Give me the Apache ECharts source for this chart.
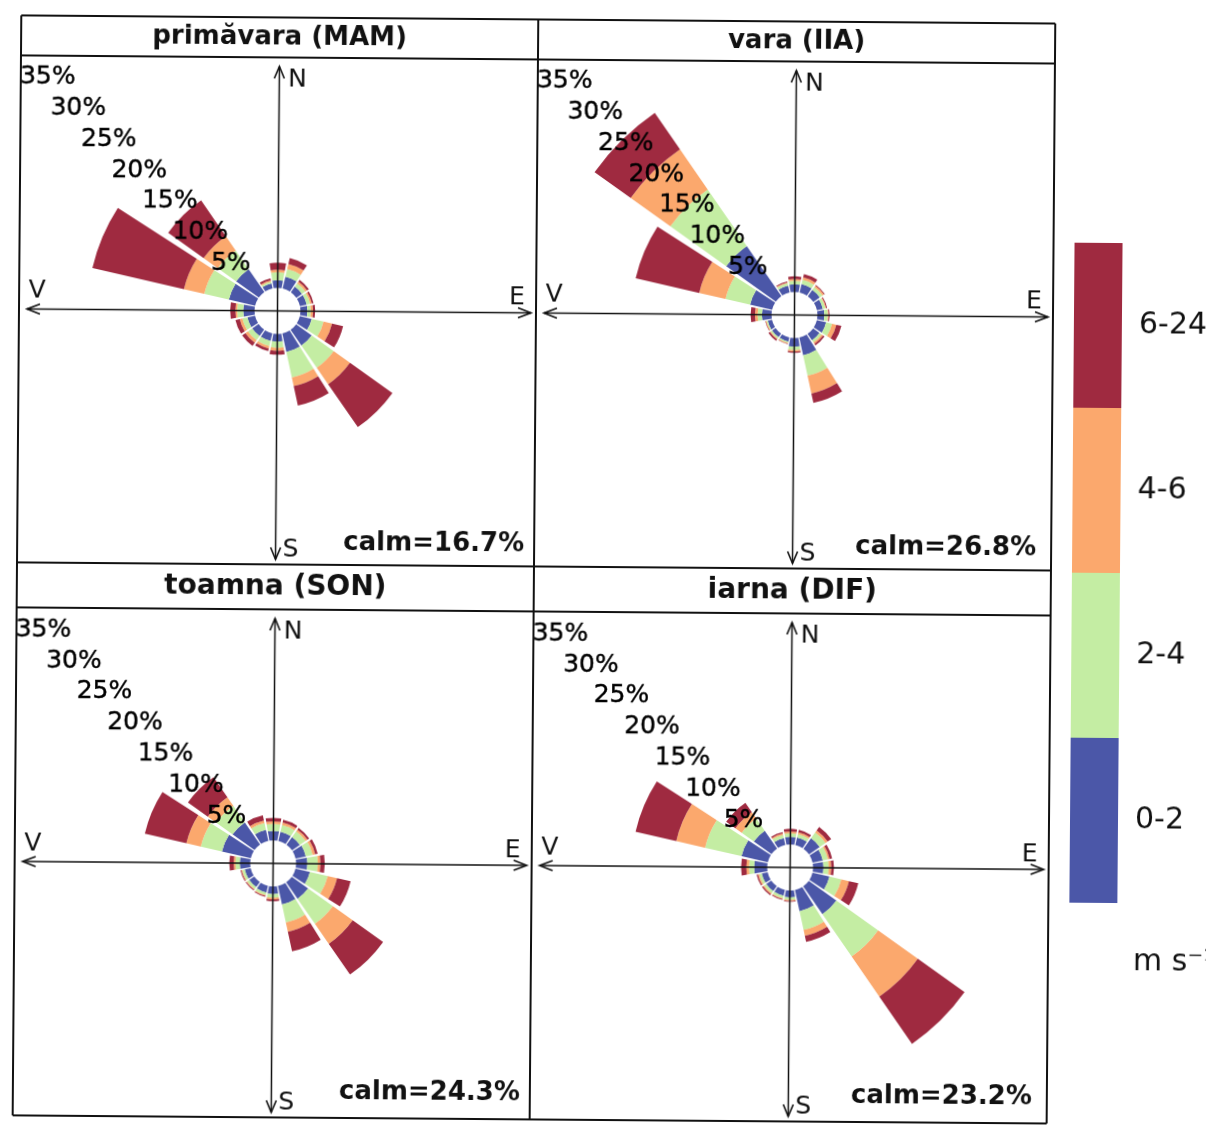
<!DOCTYPE html>
<html><head><meta charset="utf-8">
<script src="https://cdn.jsdelivr.net/npm/echarts@6/dist/echarts.min.js"></script>
<style>
html,body{margin:0;padding:0;background:#fff;overflow:hidden;}
#c{width:1209px;height:1131px;transform:rotate(0.45deg);transform-origin:604px 565px;background:#fff;}
</style>
</head><body><div id="c"></div>
<script>
// ---- categories / labels ----
const directions = ['N','NNE','NE','ENE','E','ESE','SE','SSE','S','SSW','SW','WSW','W','WNW','NW','NNW'];
const speedBins = ['0-2','2-4','4-6','6-24'];
const legendOrder = ['6-24','4-6','2-4','0-2'];
const seasonTitles = ['primăvara (MAM)','vara (IIA)','toamna (SON)','iarna (DIF)'];
const calmValues = [16.7, 26.8, 24.3, 23.2];
const ringTicks = [5,10,15,20,25,30,35];
const ringTickLabels = ['5%','10%','15%','20%','25%','30%','35%'];
const unitLabel = 'm s\u207B\u00B9';

// ---- frequencies (%) per direction, per speed bin ----
// primăvara (MAM)
const mam_0_2  = [0.9,1.4,0.8,0.8,0.8,1.4,2.2,2.2,0.9,0.9,0.9,0.9,1.3,3.1,3.2,0.6];
const mam_2_4  = [0.9,0.9,0.45,0.4,0.4,1.4,3.1,3.0,0.7,0.6,0.6,0.6,0.7,2.9,2.6,0.2];
const mam_4_6  = [0.3,0.6,0.25,0.2,0.25,1.0,2.3,1.0,0.35,0.3,0.35,0.3,0.2,2.4,2.0,0.15];
const mam_6_24 = [0.8,0.7,0.25,0.2,0.25,1.3,6.0,2.3,0.45,0.3,0.45,0.5,0.6,10.8,5.0,0.25];
// vara (IIA)
const jja_0_2  = [0.9,1.0,0.9,0.7,0.8,1.1,0.9,2.1,1.0,0.5,0.5,0.5,1.1,2.6,7.0,0.8];
const jja_2_4  = [0.4,0.5,0.4,0.3,0.4,0.7,0.3,2.4,0.4,0.15,0.2,0.15,0.5,2.9,7.9,0.3];
const jja_4_6  = [0.2,0.3,0.2,0.1,0.1,0.5,0.2,2.1,0.15,0.1,0.1,0.1,0.3,3.1,5.6,0.1];
const jja_6_24 = [0.3,0.4,0.1,0.1,0.1,0.6,0.2,1.1,0.15,0.05,0.2,0.05,0.5,7.5,5.1,0.1];
// toamna (SON)
const son_0_2  = [1.1,1.1,1.1,1.2,1.3,1.7,2.3,2.2,0.9,0.8,0.7,0.7,1.2,3.4,3.1,1.3];
const son_2_4  = [0.8,0.8,0.8,0.8,1.2,2.1,3.5,2.1,0.4,0.3,0.3,0.3,0.5,2.5,2.3,0.8];
const son_4_6  = [0.3,0.3,0.25,0.3,0.3,1.1,2.8,1.1,0.2,0.1,0.1,0.1,0.2,1.7,1.2,0.3];
const son_6_24 = [0.4,0.3,0.25,0.3,0.5,1.6,4.3,2.3,0.2,0.1,0.1,0.1,0.5,4.9,2.8,0.6];
// iarna (DIF)
const djf_0_2  = [0.9,0.9,1.5,1.2,1.2,2.0,3.9,2.5,0.8,0.7,0.7,0.7,1.5,3.1,2.5,0.8];
const djf_2_4  = [0.4,0.4,0.8,0.6,0.6,1.4,5.9,2.2,0.3,0.3,0.3,0.3,0.6,4.3,1.7,0.4];
const djf_4_6  = [0.2,0.2,0.3,0.2,0.3,0.9,5.6,0.7,0.1,0.1,0.15,0.15,0.3,3.4,0.9,0.15];
const djf_6_24 = [0.3,0.3,0.5,0.3,0.3,1.1,6.6,0.7,0.1,0.1,0.15,0.15,0.6,4.8,1.3,0.15];

const seasonBins = [
  [mam_0_2, mam_2_4, mam_4_6, mam_6_24],
  [jja_0_2, jja_2_4, jja_4_6, jja_6_24],
  [son_0_2, son_2_4, son_4_6, son_6_24],
  [djf_0_2, djf_2_4, djf_4_6, djf_6_24]
];

// ---- layout / style ----
const COLORS = ['#4B57A8', '#C4EDA3', '#FBA86D', '#9F2A40'];
const COLS = [[17, 534], [534, 1051]];
const ROWS = [[20, 60, 567], [567, 612, 1120]];
const PX_PER_PCT = 8.7, OFFSET = 2.64, RMAX = 40;
const FONT = '"DejaVu Sans", "Liberation Sans", sans-serif';
const INK = '#111111';

const polar = [], angleAxis = [], radiusAxis = [], series = [], graphic = [];
const hidden = {axisLine:{show:false}, axisTick:{show:false}, axisLabel:{show:false}, splitLine:{show:false}, splitArea:{show:false}};

function txt(text, x, y, font, align, valign) {
  graphic.push({type:'text', z:110, silent:true,
    style:{text, x, y, font, fill:INK, textAlign:align, textVerticalAlign:valign, align:align, verticalAlign:valign}});
}
function line(x1, y1, x2, y2, w) {
  graphic.push({type:'line', z:100, silent:true, shape:{x1,y1,x2,y2}, style:{stroke:INK, lineWidth:w}});
}
function chev(points) {
  graphic.push({type:'polyline', z:100, silent:true, shape:{points}, style:{stroke:INK, lineWidth:1.6, fill:null}});
}

seasonBins.forEach((bins, i) => {
  const col = i % 2, row = Math.floor(i / 2);
  const [x0, x1] = COLS[col];
  const [yTop, yT, y1] = ROWS[row];
  const cx = (x0 + x1) / 2, cy = (yT + y1) / 2;

  polar.push({center:[cx, cy], radius:(RMAX + OFFSET) * PX_PER_PCT});
  angleAxis.push(Object.assign({polarIndex:i, type:'category', data:directions,
    startAngle:90 + 180 / directions.length, clockwise:true, boundaryGap:true}, hidden));
  radiusAxis.push(Object.assign({polarIndex:i, type:'value', min:-OFFSET, max:RMAX}, hidden));

  bins.forEach((vals, b) => {
    series.push({type:'bar', coordinateSystem:'polar', polarIndex:i, stack:'rose' + i,
      name:speedBins[b], data:vals, barCategoryGap:'12%', silent:true, z:2,
      itemStyle:{color:COLORS[b]}});
  });
  const nwIdx = directions.indexOf('NW');
  series.push({type:'scatter', coordinateSystem:'polar', polarIndex:i, silent:true, z:5, clip:false,
    symbolSize:0, itemStyle:{color:INK, opacity:1},
    data: ringTicks.map(t => [t, nwIdx]),
    label:{show:true, position:'inside', formatter:p => ringTickLabels[p.dataIndex],
      fontSize:25, fontFamily:FONT, color:'#000000', opacity:1, textBorderWidth:0.4, textBorderColor:'#000000'}});

  // cross axes with arrows
  const tipT = yT + 9, tipB = y1 - 5, tipL = x0 + 8, tipR = x1 - 5;
  line(cx, tipT, cx, tipB, 1.5);
  line(tipL, cy, tipR, cy, 1.5);
  chev([[cx - 5, tipT + 12], [cx, tipT], [cx + 5, tipT + 12]]);
  chev([[cx - 5, tipB - 12], [cx, tipB], [cx + 5, tipB - 12]]);
  chev([[tipL + 13, cy - 5], [tipL, cy], [tipL + 13, cy + 5]]);
  chev([[tipR - 13, cy - 5], [tipR, cy], [tipR - 13, cy + 5]]);
  txt('N', cx + 18, yT + 22, '25px ' + FONT, 'center', 'middle');
  txt('S', cx + 15, y1 - 15, '25px ' + FONT, 'center', 'middle');
  txt('V', x0 + 18, cy - 18, '25px ' + FONT, 'center', 'middle');
  txt('E', x1 - 19, cy - 15, '25px ' + FONT, 'center', 'middle');

  // title and calm
  txt(seasonTitles[i], cx, (yTop + yT) / 2, 'bold ' + (row === 0 ? 26 : 28) + 'px ' + FONT, 'center', 'middle');
  txt('calm=' + calmValues[i].toFixed(1) + '%', x1 - (col === 0 ? 10 : 15), y1 - (row === 0 ? 22 : 26),
      'bold 26px ' + FONT, 'right', 'middle');
});

// frame lines
line(COLS[0][0], ROWS[0][0], COLS[1][1], ROWS[0][0], 2);
line(COLS[0][0], ROWS[1][2], COLS[1][1], ROWS[1][2], 2);
line(COLS[0][0], ROWS[0][0], COLS[0][0], ROWS[1][2], 2);
line(COLS[1][1], ROWS[0][0], COLS[1][1], ROWS[1][2], 2);
line(COLS[0][1], ROWS[0][0], COLS[0][1], ROWS[1][2], 2);
line(COLS[0][0], ROWS[0][1], COLS[1][1], ROWS[0][1], 2);
line(COLS[0][0], ROWS[1][0], COLS[1][1], ROWS[1][0], 2);
line(COLS[0][0], ROWS[1][1], COLS[1][1], ROWS[1][1], 2);

// unit label under the colour key
txt(unitLabel, 1136, 958, '30px ' + FONT, 'left', 'middle');

const chart = echarts.init(document.getElementById('c'), null, {renderer:'canvas'});
chart.setOption({
  backgroundColor:'#ffffff',
  animation:false,
  polar, angleAxis, radiusAxis, series, graphic,
  legend:{data:legendOrder, orient:'vertical', left:1072, top:239, itemWidth:48, itemHeight:165, itemGap:0,
    icon:'rect', selectedMode:false, padding:0,
    textStyle:{fontSize:30, fontFamily:FONT, color:INK, padding:[0,0,0,12]}}
});
</script>
</body></html>
